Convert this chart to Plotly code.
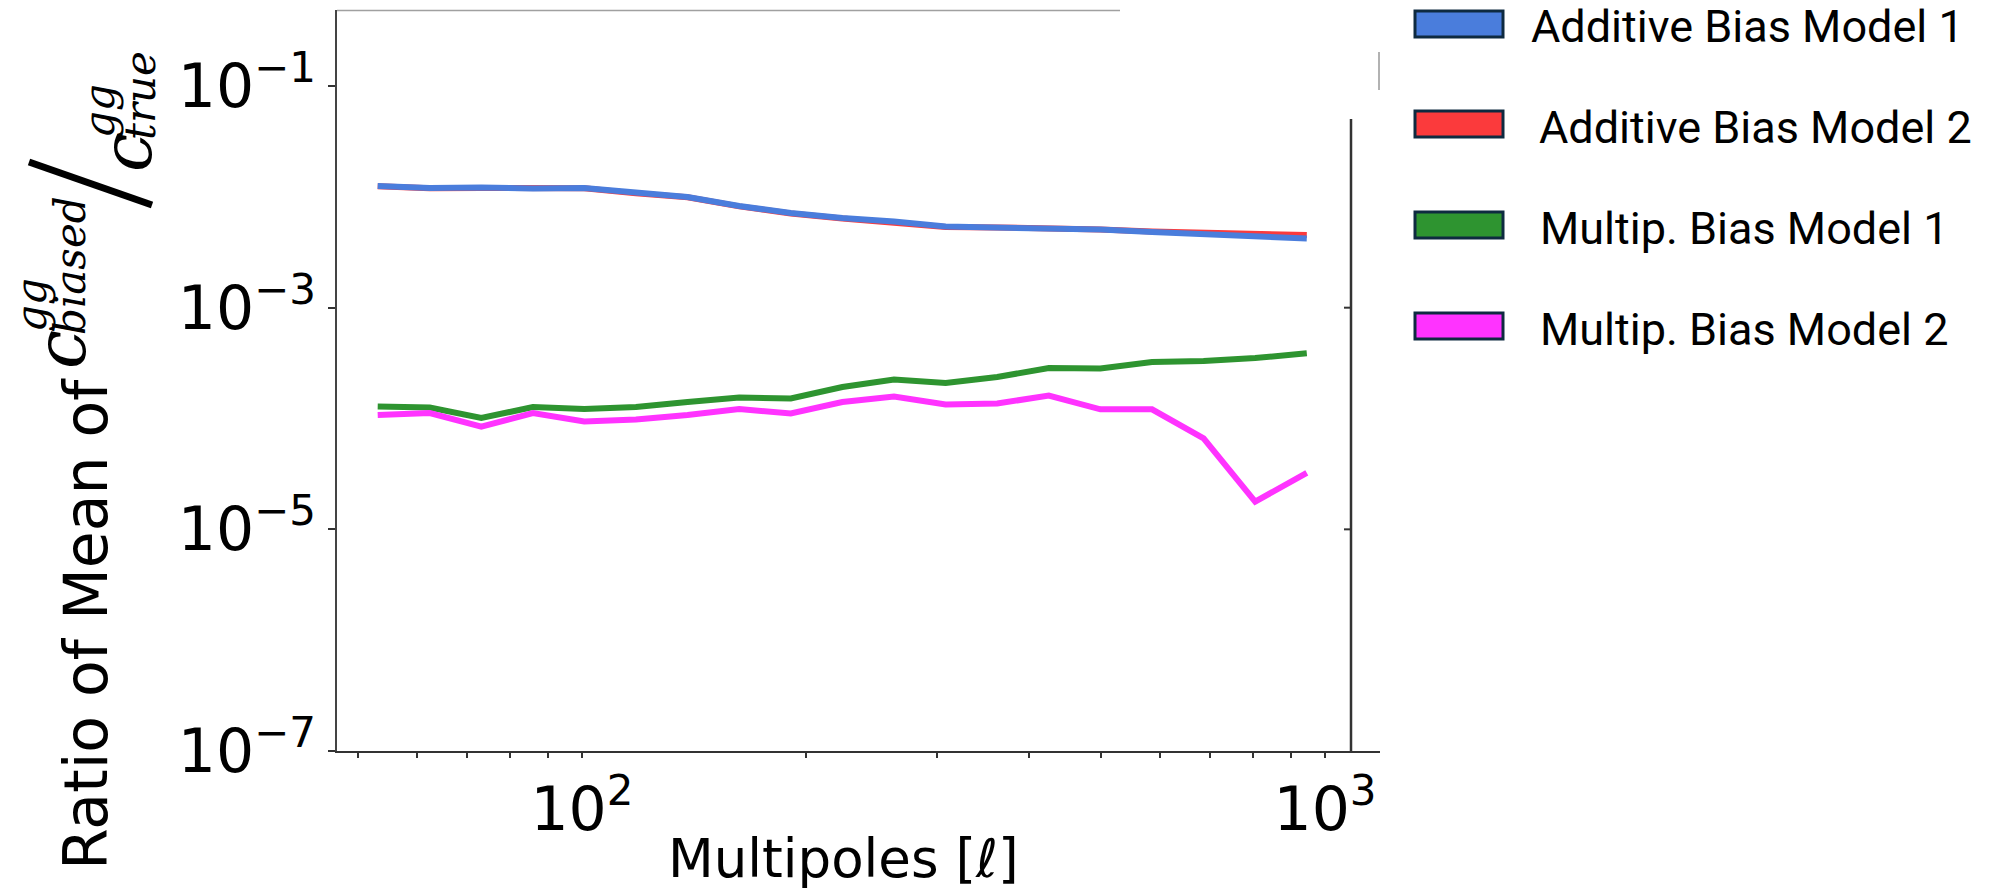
import math
import plotly.graph_objects as go

# ---------------- data ----------------
ell = [53.1, 62.4, 73.2, 85.9, 100.7, 118.2, 138.7, 162.8, 191.0, 224.1,
       263.0, 308.6, 362.1, 424.9, 498.5, 585.0, 686.4, 805.4, 945.1]
add_model1 = [0.01252, 0.01202, 0.01214, 0.01189, 0.01202, 0.01083, 0.00997, 0.00827,
              0.00715, 0.00644, 0.00599, 0.00540, 0.00534, 0.00523, 0.00507, 0.00482,
              0.00462, 0.00439, 0.00421]
add_model2 = [0.01245, 0.01195, 0.01205, 0.01182, 0.01195, 0.01075, 0.00990, 0.00820,
              0.00708, 0.00637, 0.00593, 0.00535, 0.00530, 0.00522, 0.00508, 0.00486,
              0.00470, 0.00457, 0.00452]
mult_model1 = [1.283e-4, 1.257e-4, 1.010e-4, 1.270e-4, 1.218e-4, 1.270e-4, 1.408e-4,
               1.546e-4, 1.515e-4, 1.924e-4, 2.248e-4, 2.090e-4, 2.368e-4, 2.855e-4,
               2.826e-4, 3.233e-4, 3.301e-4, 3.513e-4, 3.875e-4]
mult_model2 = [1.075e-4, 1.121e-4, 8.43e-5, 1.121e-4, 9.39e-5, 9.79e-5, 1.075e-4,
               1.218e-4, 1.109e-4, 1.408e-4, 1.579e-4, 1.337e-4, 1.365e-4, 1.612e-4,
               1.210e-4, 1.210e-4, 6.63e-5, 1.775e-5, 3.24e-5]

series_names = ["Additive Bias Model 1", "Additive Bias Model 2",
                "Multip. Bias Model 1", "Multip. Bias Model 2"]
series_colors = ["#4a7ddc", "#fb3a3c", "#2e9430", "#ff33ff"]

x_tickvals = [100, 1000]
x_ticktext = ["10<sup>2</sup>", "10<sup>3</sup>"]
x_minor = [50, 60, 70, 80, 90, 200, 300, 400, 500, 600, 700, 800, 900]
y_tickvals = [1e-1, 1e-3, 1e-5, 1e-7]
y_ticktext = ["10<sup>\u22121</sup>", "10<sup>\u22123</sup>",
              "10<sup>\u22125</sup>", "10<sup>\u22127</sup>"]

# ---------------- layout geometry (pixels of the 1998x888 page) ----------------
W, H = 1998, 888
L, R, T, B = 337, 1380, 10, 751
XR = [1.6703, 3.074]
YR = [-7, -0.314]


def px(x):
    return x / W


def py(y):
    return 1 - y / H


def ylog_paper(v):
    f = (math.log10(v) - YR[0]) / (YR[1] - YR[0])
    return py(B - f * (B - T))


fig = go.Figure()
order = [1, 0, 2, 3]          # red drawn under blue
data = [add_model1, add_model2, mult_model1, mult_model2]
for i in order:
    fig.add_trace(go.Scatter(x=ell, y=data[i], mode="lines", name=series_names[i],
                             line=dict(color=series_colors[i], width=6),
                             showlegend=False))

axis_font = dict(family="DejaVu Sans", size=60, color="black")

fig.update_layout(
    width=W, height=H,
    margin=dict(l=0, r=0, t=0, b=0, pad=0, autoexpand=False),
    paper_bgcolor="white", plot_bgcolor="white",
    showlegend=False,
    xaxis=dict(type="log", range=XR, domain=[px(L), px(R)], automargin=False,
               showgrid=False, zeroline=False,
               showline=True, linecolor="#333", linewidth=2,
               ticks="outside", ticklen=5, tickwidth=1.5, tickcolor="#333",
               tickvals=x_tickvals, ticktext=x_ticktext, tickfont=axis_font,
               minor=dict(tickvals=x_minor, ticks="outside", ticklen=5,
                          tickwidth=1.5, tickcolor="#333", showgrid=False)),
    yaxis=dict(type="log", range=YR, domain=[py(B), py(T)], automargin=False,
               showgrid=False, zeroline=False,
               showline=True, linecolor="#444", linewidth=2,
               ticks="outside", ticklen=7, tickwidth=1.5, tickcolor="#333",
               tickvals=y_tickvals, ticktext=y_ticktext, tickfont=axis_font),
)

shapes = []
# partial top border (light gray)
shapes.append(dict(type="line", xref="paper", yref="paper", x0=px(L), x1=px(1120),
                   y0=py(10.5), y1=py(10.5), line=dict(color="#a0a0a0", width=1.5)))
# faint remains of the right spine
shapes.append(dict(type="line", xref="paper", yref="paper", x0=px(1379), x1=px(1379),
                   y0=py(52), y1=py(90), line=dict(color="#999", width=1.5)))
# inner right frame line with ticks
shapes.append(dict(type="line", xref="paper", yref="paper", x0=px(1351), x1=px(1351),
                   y0=py(119), y1=py(B), line=dict(color="#333", width=2.5)))
for v in [1e-3, 1e-5]:
    yp = ylog_paper(v)
    shapes.append(dict(type="line", xref="paper", yref="paper", x0=px(1344), x1=px(1351),
                       y0=yp, y1=yp, line=dict(color="#333", width=2)))
# fraction slash of the y title
shapes.append(dict(type="line", xref="paper", yref="paper", x0=px(152), x1=px(29),
                   y0=py(205), y1=py(162), line=dict(color="black", width=7)))

# legend patches
legend_y = [24, 124, 225, 326]
legend_text_x = [1529, 1537, 1538, 1538]
for i in range(4):
    shapes.append(dict(type="rect", xref="paper", yref="paper",
                       x0=px(1415), x1=px(1503), y0=py(legend_y[i] - 13), y1=py(legend_y[i] + 13),
                       fillcolor=series_colors[i], line=dict(color="#0e2a40", width=3)))
fig.update_layout(shapes=shapes)

ann = []
for i in range(4):
    ann.append(dict(xref="paper", yref="paper", x=px(legend_text_x[i]), y=py(legend_y[i] + 3),
                    xanchor="left", yanchor="middle", showarrow=False,
                    text=series_names[i],
                    font=dict(family="Roboto", size=45, color="black")))

# x axis title
ann.append(dict(xref="paper", yref="paper", x=px(843), y=py(858), xanchor="center",
                yanchor="middle", showarrow=False, text="Multipoles [<i>\u2113</i>]",
                font=dict(family="DejaVu Sans", size=53, color="black")))

# y axis title pieces (rotated)
ann.append(dict(xref="paper", yref="paper", x=px(86), y=py(624), xanchor="center",
                yanchor="middle", showarrow=False, textangle=-90, text="Ratio of Mean of",
                font=dict(family="DejaVu Sans", size=60, color="black")))
pieces = [
    ("<i>c</i>", 61, 350, 70),
    ("<i>gg</i>", 31, 305, 42),
    ("<i>biased</i>", 71, 266, 42),
    ("<i>c</i>", 127, 153, 70),
    ("<i>gg</i>", 99, 111, 42),
    ("<i>true</i>", 140, 96, 42),
]
for txt, cx, cy, sz in pieces:
    ann.append(dict(xref="paper", yref="paper", x=px(cx), y=py(cy), xanchor="center",
                    yanchor="middle", showarrow=False, textangle=-90, text=txt,
                    font=dict(family="DejaVu Serif", size=sz, color="black")))

fig.update_layout(annotations=ann)

fig.write_html("out.html")
